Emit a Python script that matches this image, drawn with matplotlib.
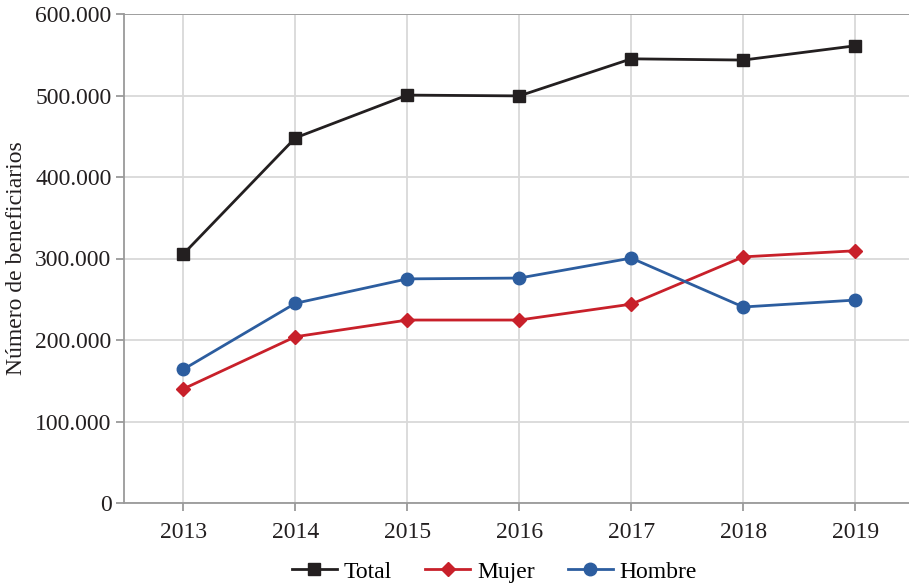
import matplotlib
matplotlib.use("Agg")
import matplotlib.pyplot as plt
from matplotlib.ticker import FuncFormatter

years = [2013, 2014, 2015, 2016, 2017, 2018, 2019]
total = [305500, 448000, 500500, 499500, 545000, 543500, 561000]
mujer = [140000, 204000, 224500, 224500, 244000, 302000, 309500]
hombre = [164000, 245000, 275000, 276000, 300500, 240500, 249000]

plt.rcParams['font.family'] = ['Liberation Serif', 'DejaVu Serif']

fig = plt.figure(figsize=(9.09, 5.87), dpi=100)
ax = fig.add_axes([124/909, 1 - 503/587, 1 - 124/909, (503 - 14)/587])

ax.plot(years, total, color='#231f20', marker='s', markersize=8, linewidth=2, label='Total', zorder=3)
ax.plot(years, mujer, color='#c8202a', marker='D', markersize=7, linewidth=2, label='Mujer', zorder=3)
ax.plot(years, hombre, color='#2c5d9f', marker='o', markersize=9, linewidth=2, label='Hombre', zorder=3)

ax.set_xlim(2012.47, 2019.48)
ax.set_ylim(0, 600000)
ax.set_xticks(years)
ax.set_yticks(range(0, 600001, 100000))
ax.yaxis.set_major_formatter(FuncFormatter(lambda v, p: '0' if v == 0 else f'{int(v):,}'.replace(',', '.')))

ax.grid(True, color='#d9d9d9', linewidth=1.3)
ax.set_axisbelow(True)
for s in ['top', 'right']:
    ax.spines[s].set_visible(False)
for s in ['left', 'bottom']:
    ax.spines[s].set_color('#9a9a9a')
    ax.spines[s].set_linewidth(1.3)
ax.axhline(600000, color='#9a9a9a', linewidth=1.3, zorder=1)
ax.tick_params(colors='#9a9a9a', labelcolor='#231f20', labelsize=17, length=6, width=1.3)
ax.tick_params(axis='x', pad=8)
ax.tick_params(axis='y', pad=3)

ax.set_ylabel('Número de beneficiarios', fontsize=17, color='#231f20', labelpad=6)

ax.legend(loc='center', bbox_to_anchor=(0.472, -0.141), ncol=3, frameon=False,
          fontsize=17, handlelength=1.9, columnspacing=1.4, handletextpad=0.3,
          borderpad=0, borderaxespad=0)

fig.savefig('out.png', dpi=100)
